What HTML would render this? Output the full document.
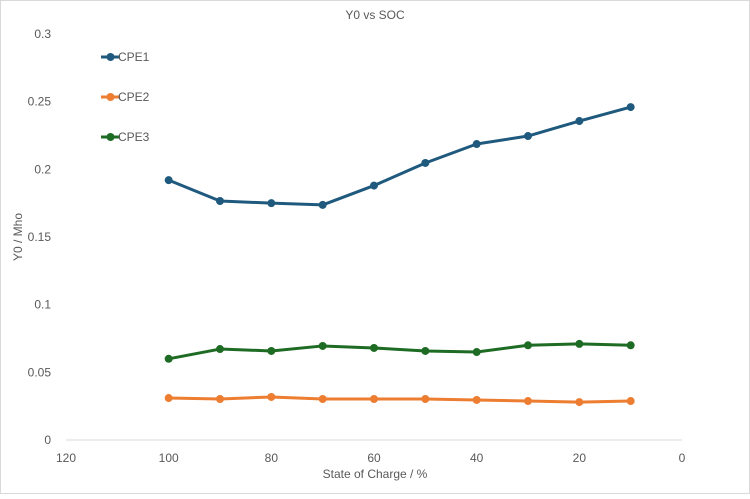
<!DOCTYPE html>
<html><head><meta charset="utf-8"><style>
body{margin:0;background:#fff;}
svg text{font-family:"Liberation Sans",sans-serif;fill:#595959;}
</style></head><body>
<svg width="750" height="494" xmlns="http://www.w3.org/2000/svg">
<rect x="0.5" y="0.5" width="749" height="493" fill="#fff" stroke="#d9d9d9"/>
<text x="375" y="19" text-anchor="middle" font-size="12">Y0 vs SOC</text>
<g id="axes"></g>
<g id="series"></g>
<g id="legend"></g>
<text x="375" y="478" text-anchor="middle" font-size="12">State of Charge / %</text>
<text transform="translate(22,237) rotate(-90)" text-anchor="middle" font-size="12">Y0 / Mho</text>
</svg>
<script>
const categories=[100,90,80,70,60,50,40,30,20,10];
const cpe1=[0.192,0.1766,0.175,0.1737,0.188,0.2047,0.2187,0.2246,0.2357,0.246];
const cpe2=[0.031,0.0303,0.0318,0.0303,0.0303,0.0303,0.0296,0.0288,0.028,0.0288];
const cpe3=[0.060,0.0672,0.0658,0.0695,0.068,0.0658,0.065,0.070,0.071,0.070];
const xTicks=[120,100,80,60,40,20,0];
const yTicks=[0,0.05,0.1,0.15,0.2,0.25,0.3];
const yTickLabels=["0","0.05","0.1","0.15","0.2","0.25","0.3"];
const seriesNames=["CPE1","CPE2","CPE3"];
const NS="http://www.w3.org/2000/svg";
const X=v=>66+(120-v)*(682-66)/120;
const Y=v=>440-v*(406/0.3);
function mk(t,a,p){const e=document.createElementNS(NS,t);for(const k in a)e.setAttribute(k,a[k]);p.appendChild(e);return e;}
const axes=document.getElementById('axes');
const xl=mk('line',{x1:66,x2:682,y1:440,y2:440,stroke:'#d9d9d9'},axes);


xTicks.forEach(v=>{const t=mk('text',{x:X(v),y:462,'text-anchor':'middle','font-size':12},axes);t.textContent=v;

});
yTicks.forEach((v,i)=>{const t=mk('text',{x:51,y:Y(v)+4,'text-anchor':'end','font-size':12},axes);t.textContent=yTickLabels[i];

});
const colors=["#1f5a7e","#ed7d31","#1e6b24"];
const data=[cpe1,cpe2,cpe3];
const sg=document.getElementById('series');
data.forEach((s,si)=>{
const g=mk('g',{},sg);


const p=mk('polyline',{points:s.map((v,i)=>X(categories[i])+','+Y(v)).join(' '),fill:'none',stroke:colors[si],'stroke-width':3,'stroke-linejoin':'round'},g);


s.forEach((v,i)=>{const c=mk('circle',{cx:X(categories[i]),cy:Y(v),r:4,fill:colors[si]},g);

});
});
const lg=document.getElementById('legend');
const ly=[57,97,137];
seriesNames.forEach((n,i)=>{
const g=mk('g',{},lg);


mk('line',{x1:101,x2:120,y1:ly[i],y2:ly[i],stroke:colors[i],'stroke-width':3},g);
mk('circle',{cx:110.5,cy:ly[i],r:4,fill:colors[i]},g);
const t=mk('text',{x:118,y:ly[i]+4,'font-size':12},g);t.textContent=n;
});
</script>
</body></html>
